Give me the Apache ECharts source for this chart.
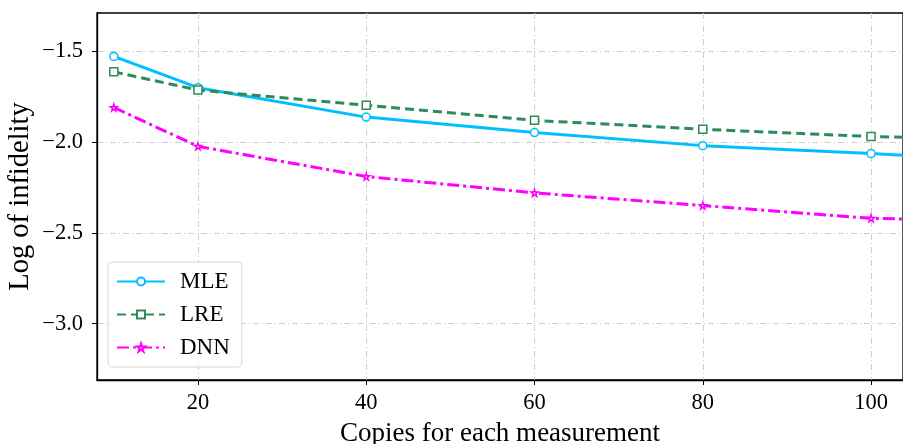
<!DOCTYPE html>
<html><head><meta charset="utf-8">
<script src="https://cdn.jsdelivr.net/npm/echarts@6/dist/echarts.min.js"></script>
<style>html,body{margin:0;padding:0;background:#fff}#c{width:903px;height:444px}</style>
</head><body><div id="c"></div>
<script>
var copies = [10, 20, 40, 60, 80, 100, 120];
var mle = [-1.529, -1.701, -1.863, -1.948, -2.020, -2.064, -2.11];
var lre = [-1.614, -1.714, -1.798, -1.881, -1.930, -1.970, -1.99];
var dnn = [-1.810, -2.024, -2.190, -2.280, -2.350, -2.420, -2.44];
var xTicks = [20, 40, 60, 80, 100];
var yTicks = [-3.0, -2.5, -2.0, -1.5];

var FONT = 'Liberation Serif';
var star = 'path://M50,0 L61,35 L98,35 L68,57 L79,91 L50,70 L21,91 L32,57 L2,35 L39,35 Z';
function pairs(v){ return copies.map(function(x,i){ return [x, v[i]]; }); }
var gridLine = {show:true, lineStyle:{color:'#cfcfcf', width:1, type:[6,3,1,3]}};

var chart = echarts.init(document.getElementById('c'));
chart.setOption({
  animation:false,
  grid:{left:97, top:13, right:0, bottom:64, show:true, borderColor:'#000', borderWidth:1.3,
        containLabel:false, outerBoundsMode:'none'},
  legend:{
    left:108, top:262, orient:'vertical', itemGap:10,
    itemWidth:48, itemHeight:10,
    padding:[8,12,8,8],
    borderColor:'#d6d6d6', borderWidth:1, borderRadius:4, backgroundColor:'rgba(255,255,255,0.8)',
    textStyle:{fontFamily:FONT, fontSize:23, color:'#000', padding:[0,0,0,10]},
    data:['MLE','LRE','DNN']
  },
  xAxis:{
    type:'value', min:8, max:103.8,
    name:'Copies for each measurement', nameLocation:'middle', nameGap:40, nameMoveOverlap:false,
    nameTextStyle:{fontFamily:FONT, fontSize:27, color:'#000'},
    axisLine:{show:true, lineStyle:{color:'#000', width:1.3}},
    axisTick:{show:true, inside:false, length:5, customValues:xTicks, lineStyle:{color:'#000'}},
    axisLabel:{fontFamily:FONT, fontSize:22.5, color:'#000', margin:12, customValues:xTicks},
    splitLine:gridLine
  },
  yAxis:{
    type:'value', min:-3.31, max:-1.29,
    name:'Log of infidelity', nameLocation:'middle', nameGap:62, nameRotate:90, nameMoveOverlap:false,
    nameTextStyle:{fontFamily:FONT, fontSize:28.5, color:'#000'},
    axisLine:{show:true, lineStyle:{color:'#000', width:1.3}},
    axisTick:{show:true, inside:false, length:5, customValues:yTicks, lineStyle:{color:'#000'}},
    axisLabel:{fontFamily:FONT, fontSize:22.5, color:'#000', margin:14, customValues:yTicks,
      formatter:function(v){ return v.toFixed(1).replace('-', '\u2212'); }},
    splitLine:gridLine
  },
  series:[
    {name:'MLE', type:'line', data:pairs(mle), symbol:'circle', symbolSize:8,
     lineStyle:{color:'#00BFFF', width:3},
     itemStyle:{color:'#fff', borderColor:'#00BFFF', borderWidth:1.5}, color:'#00BFFF'},
    {name:'LRE', type:'line', data:pairs(lre), symbol:'rect', symbolSize:8,
     lineStyle:{color:'#2E8B57', width:3, type:[9,5]},
     itemStyle:{color:'#fff', borderColor:'#2E8B57', borderWidth:1.5}, color:'#2E8B57'},
    {name:'DNN', type:'line', data:pairs(dnn), symbol:star, symbolSize:7,
     lineStyle:{color:'#FF00FF', width:3, type:[12,4,3,4]},
     itemStyle:{color:'#fff', borderColor:'#FF00FF', borderWidth:1.5}, color:'#FF00FF'}
  ]
});
</script></body></html>
